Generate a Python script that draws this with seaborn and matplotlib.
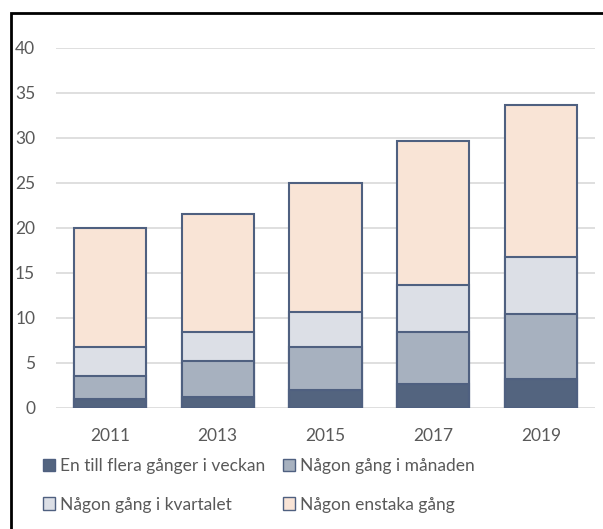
import matplotlib.pyplot as plt
import matplotlib.patches as mpatches
import numpy as np
import pandas as pd
import seaborn as sns

years = ["2011", "2013", "2015", "2017", "2019"]
series = [
    "En till flera gånger i veckan",
    "Någon gång i månaden",
    "Någon gång i kvartalet",
    "Någon enstaka gång",
]
weekly = [1.0, 1.2, 2.0, 2.6, 3.2]
monthly = [2.5, 4.0, 4.75, 5.8, 7.2]
quarterly = [3.2, 3.2, 3.85, 5.2, 6.3]
occasional = [13.3, 13.1, 14.4, 16.0, 16.9]

colors = ["#53647F", "#A7B1BF", "#DCDFE6", "#F9E4D6"]
edge = "#4F6080"
text_color = "#595959"

sns.set_theme(style="white")
plt.rcParams["font.family"] = ["Lato", "DejaVu Sans"]

df = pd.DataFrame(
    {"year": years, series[0]: weekly, series[1]: monthly,
     series[2]: quarterly, series[3]: occasional}
)
cum = df[series].cumsum(axis=1)

fig = plt.figure(figsize=(6.03, 5.29), dpi=100)
ax = fig.add_axes([56 / 603, 1 - 407.5 / 529, 539 / 603, 360 / 529])

# draw cumulative layers from the top down so each stack segment shows
for i in range(len(series) - 1, -1, -1):
    sns.barplot(x=df["year"], y=cum[series[i]], color=colors[i], width=0.67,
                edgecolor=edge, linewidth=1.5, saturation=1, ax=ax, zorder=3)

ax.set_ylim(0, 40)
ax.set_xlim(-0.5, 4.5)
ax.set_yticks(range(0, 41, 5))
ax.yaxis.grid(True, color="#D9D9D9", linewidth=1.2, zorder=0)
ax.xaxis.grid(False)
for s in ax.spines.values():
    s.set_visible(False)
ax.set_xlabel("")
ax.set_ylabel("")
ax.tick_params(axis="y", length=0, pad=15, labelsize=12.5, labelcolor=text_color)
ax.tick_params(axis="x", length=0, pad=15, labelsize=12.5, labelcolor=text_color)

# legend fills column-wise, so reorder to get the row-wise layout
order = [0, 2, 1, 3]
handles = [mpatches.Patch(facecolor=colors[i], edgecolor=edge, linewidth=1) for i in order]
labels = [series[i] for i in order]
fig.legend(handles, labels, ncol=2, loc="upper left",
           bbox_to_anchor=(43 / 603, 1 - 458 / 529), frameon=False,
           fontsize=12.5, labelcolor=text_color, handlelength=0.7,
           handleheight=0.7, handletextpad=0.3, columnspacing=1.0,
           labelspacing=1.3, borderpad=0, borderaxespad=0)

fig.patches.append(mpatches.Rectangle((11 / 603, -0.2), 1.2, 1.2 - 13 / 529,
                                      transform=fig.transFigure, fill=False,
                                      edgecolor="black", linewidth=2))

fig.savefig("out.png", dpi=100)
